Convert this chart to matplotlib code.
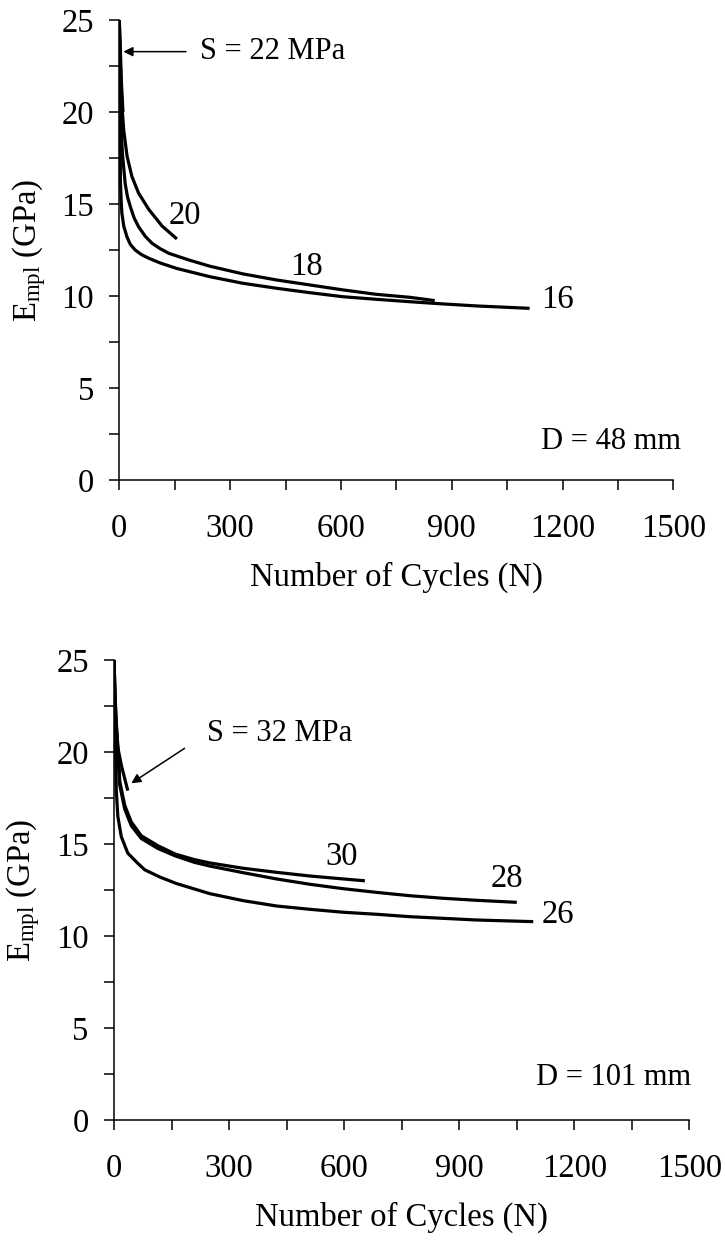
import matplotlib
matplotlib.use("Agg")
import matplotlib.pyplot as plt
from matplotlib.ticker import MultipleLocator

plt.rcParams['font.family'] = ['Liberation Serif', 'DejaVu Serif']
plt.rcParams['mathtext.fontset'] = 'custom'
plt.rcParams['mathtext.rm'] = 'Liberation Serif'
plt.rcParams['mathtext.it'] = 'Liberation Serif:italic'

# D = 48 mm, stress levels (MPa)
n16 = [0, 1, 2, 3, 5, 7, 12, 21, 30, 43, 60, 80, 110, 155, 245, 335, 426, 516, 606, 696, 786, 876, 967, 1111]
e16 = [25, 22.5, 19.5, 16.3, 15.2, 14.5, 13.8, 13.2, 12.8, 12.5, 12.25, 12.05, 11.8, 11.5, 11.05, 10.69, 10.42, 10.18, 9.96, 9.82, 9.69, 9.57, 9.46, 9.33]
n18 = [0, 2, 5, 9, 16, 22, 30, 40, 52, 70, 89, 110, 134, 188, 245, 335, 426, 516, 606, 696, 786, 854]
e18 = [25, 22, 19.0, 17.6, 16.1, 15.4, 14.85, 14.25, 13.77, 13.25, 12.86, 12.58, 12.32, 11.96, 11.62, 11.2, 10.87, 10.6, 10.33, 10.09, 9.93, 9.75]
n20 = [0, 2, 5, 8, 12, 21, 34, 52, 80, 116, 156]
e20 = [25, 23, 21.3, 20.1, 19.0, 17.6, 16.5, 15.6, 14.7, 13.8, 13.1]
n22 = [0, 3, 6, 10]
e22 = [25, 23.3, 21.5, 20]

# D = 101 mm
n26 = [0, 1, 2, 3.5, 6, 10, 19, 36, 62, 80, 120, 163, 250, 337, 424, 511, 598, 685, 771, 858, 945, 1093]
e26 = [25, 23, 21.5, 20.65, 17.9, 16.5, 15.4, 14.5, 13.95, 13.6, 13.2, 12.85, 12.3, 11.92, 11.63, 11.45, 11.29, 11.18, 11.05, 10.96, 10.87, 10.78]
n28 = [0, 3, 6, 9, 15, 28, 45, 71, 115, 160, 210, 250, 337, 424, 511, 598, 685, 771, 858, 945, 1050]
e28 = [25, 22.8, 21.4, 20.5, 18.2, 16.9, 16.0, 15.3, 14.75, 14.35, 14.0, 13.8, 13.44, 13.1, 12.81, 12.57, 12.37, 12.19, 12.05, 11.94, 11.83]
n30 = [0, 3, 6, 9, 15, 28, 45, 71, 115, 160, 210, 250, 337, 424, 511, 598, 654]
e30 = [25, 23, 21.6, 20.65, 18.4, 17.1, 16.2, 15.45, 14.9, 14.45, 14.15, 13.97, 13.68, 13.46, 13.26, 13.1, 13.0]
n32 = [0, 3, 6, 20, 36]
e32 = [25, 22.3, 20.65, 19.2, 17.9]

fs = 23.5
fs_note = 22
W, H = 725, 1241
fig = plt.figure(figsize=(W / 100, H / 100), dpi=100)
ax1 = fig.add_axes([119.3 / W, 1 - 480 / H, 554 / W, 460 / H])
ax2 = fig.add_axes([114 / W, 1 - 1120 / H, 575.4 / W, 460 / H])


def style(ax):
    ax.set_xlim(0, 1500)
    ax.set_ylim(0, 25)
    ax.spines['top'].set_visible(False)
    ax.spines['right'].set_visible(False)
    for s in ['left', 'bottom']:
        ax.spines[s].set_linewidth(1.1)
    ax.xaxis.set_major_locator(MultipleLocator(300))
    ax.xaxis.set_minor_locator(MultipleLocator(150))
    ax.yaxis.set_major_locator(MultipleLocator(5))
    ax.yaxis.set_minor_locator(MultipleLocator(2.5))
    ax.tick_params(which='both', direction='out', length=7.2, width=1.1, labelsize=fs)
    ax.tick_params(axis='x', pad=17)
    ax.tick_params(axis='y', pad=11)
    ax.set_xlabel('Number of Cycles (N)', fontsize=fs, labelpad=13)
    ax.set_ylabel(r'E$_{\mathrm{mpl}}$ (GPa)', fontsize=fs, labelpad=10)


lw = 2.3
for n, e in [(n16, e16), (n18, e18), (n20, e20), (n22, e22)]:
    ax1.plot(n, e, color='black', lw=lw, solid_capstyle='butt')
for n, e in [(n26, e26), (n28, e28), (n30, e30), (n32, e32)]:
    ax2.plot(n, e, color='black', lw=lw, solid_capstyle='butt')

style(ax1)
style(ax2)

ax1.annotate('S = 22 MPa', xy=(11, 23.28), xytext=(218, 23.28), fontsize=fs_note, va='center',
             arrowprops=dict(arrowstyle='-|>', color='black', lw=1.1, shrinkA=8, shrinkB=0,
                             mutation_scale=14))
ax1.text(178, 14.35, '20', fontsize=fs, ha='center', va='center')
ax1.text(508, 11.6, '18', fontsize=fs, ha='center', va='center')
ax1.text(1187, 9.8, '16', fontsize=fs, ha='center', va='center')
ax1.text(1332, 2.1, 'D = 48 mm', fontsize=fs_note, ha='center', va='center')

ax2.text(242, 21.0, 'S = 32 MPa', fontsize=fs_note, va='center')
ax2.annotate('', xy=(45, 18.3), xytext=(184, 20.2),
             arrowprops=dict(arrowstyle='-|>', color='black', lw=1.1, shrinkA=0, shrinkB=0,
                             mutation_scale=14))
ax2.text(594, 14.3, '30', fontsize=fs, ha='center', va='center')
ax2.text(1024, 13.1, '28', fontsize=fs, ha='center', va='center')
ax2.text(1158, 11.14, '26', fontsize=fs, ha='center', va='center')
ax2.text(1303, 2.3, 'D = 101 mm', fontsize=fs_note, ha='center', va='center')

fig.savefig('out.png', dpi=100)
